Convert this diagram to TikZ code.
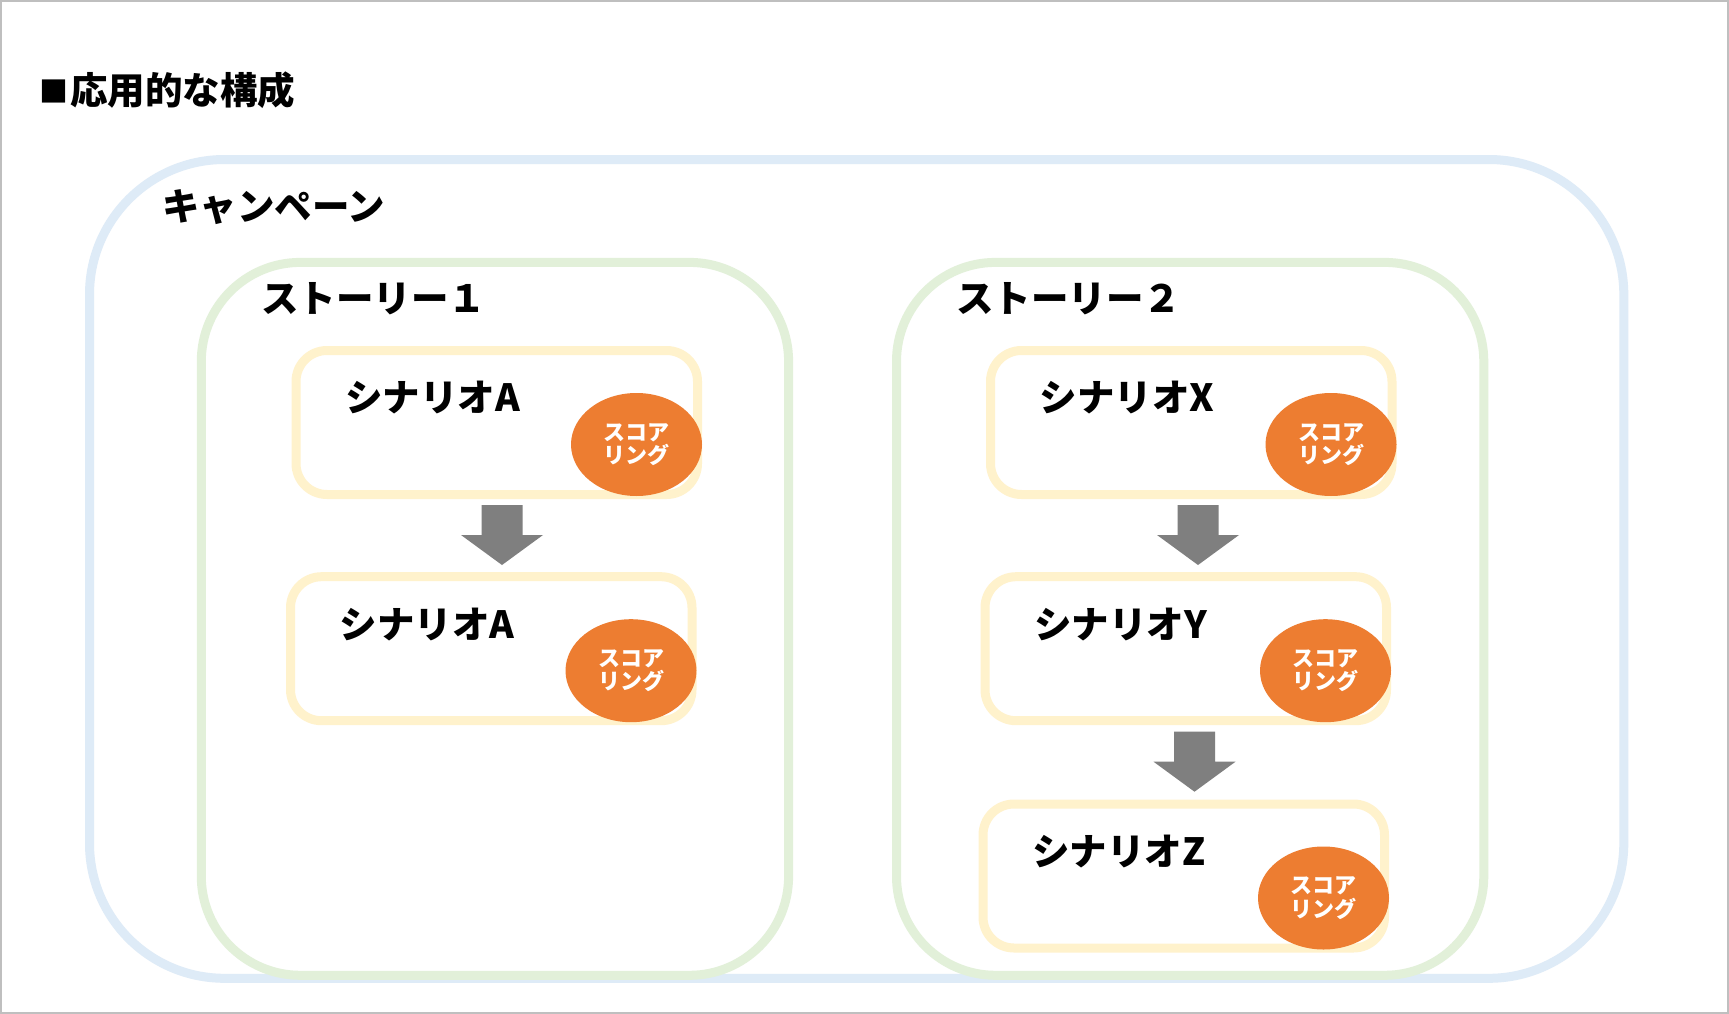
\documentclass[tikz,border=0pt]{standalone}
\usepackage{fontspec}
\setmainfont{Noto Sans CJK JP}
\usetikzlibrary{shapes.geometric,calc}
\definecolor{campblue}{HTML}{DEEBF7}
\definecolor{storygreen}{HTML}{E2F0D9}
\definecolor{scenyellow}{HTML}{FFF2CC}
\definecolor{scoreorange}{HTML}{ED7D31}
\definecolor{arrowgray}{HTML}{7F7F7F}
\definecolor{framegray}{HTML}{BFBFBF}
\tikzset{
  bigtext/.style={font=\fontsize{37.5pt}{44pt}\selectfont\bfseries, inner sep=0pt, anchor=west, text=black},
  campaignbox/.style={draw=campblue, line width=9pt, rectangle, rounded corners=135pt, inner sep=0pt, outer sep=0pt,
    minimum width=1534.3pt, minimum height=818.8pt},
  storybox/.style={draw=storygreen, line width=9pt, rectangle, rounded corners=99pt, inner sep=0pt, outer sep=0pt,
    minimum width=587.3pt, minimum height=712.9pt},
  scenbox/.style={draw=scenyellow, fill=white, line width=9pt, rectangle, rounded corners=31pt, inner sep=0pt, outer sep=0pt,
    minimum width=401.5pt, minimum height=144pt},
  scoreell/.style={ellipse, fill=scoreorange, inner sep=0pt, minimum width=131pt, minimum height=103pt,
    text=white, align=center, font=\fontsize{22pt}{23.5pt}\selectfont\bfseries},
  downarrow/.pic={
    \fill[arrowgray] (-20.5,0) -- (20.5,0) -- (20.5,30) -- (41,30) -- (0,60) -- (-41,30) -- (-20.5,30) -- cycle;
  }
}
\begin{document}
\begin{tikzpicture}[x=1pt,y=-1pt]
\useasboundingbox (0,0) rectangle (1729,1014);
\fill[white] (0,0) rectangle (1729,1014);
\draw[framegray, line width=2pt] (1,1) rectangle (1728,1013);

% title
\node[bigtext] (title) at (39,90) {\raisebox{2pt}{\fontsize{29pt}{30pt}\selectfont ■}\hspace{2pt}応用的な構成};

% campaign
\node[campaignbox] (camp) at (856.65,568.9) {};
\node[bigtext] (camptext) at (162,206.7) {キャンペーン};

% stories
\node[storybox] (st1) at (494.95,618.85) {};
\node[storybox] (st2) at (1190.15,618.85) {};
\node[bigtext] (st1text) at (261,299) {ストーリー１};
\node[bigtext] (st2text) at (956,299) {ストーリー２};

% scenarios
\node[scenbox] (A1) at (496.75,422.5) {};
\node[scenbox] (A2) at (491.25,648.7) {};
\node[scenbox] (X) at (1191.25,422.5) {};
\node[scenbox] (Y) at (1185.75,648.7) {};
\node[scenbox] (Z) at (1183.75,876) {};

\foreach \b/\t in {A1/シナリオA, A2/シナリオA, X/シナリオX, Y/シナリオY, Z/シナリオZ}{
  \node[bigtext] (\b text) at ($(\b.north west)+(49,47.5)$) {\t};
  \node[scoreell] (\b score) at ($(\b.north east)+(-61,94)$) {スコア\\リング};
}

% arrows
\pic (ar1) at (502,505) {downarrow};
\pic (ar2) at (1198,505) {downarrow};
\pic (ar3) at (1194.5,731.7) {downarrow};
\end{tikzpicture}
\end{document}
